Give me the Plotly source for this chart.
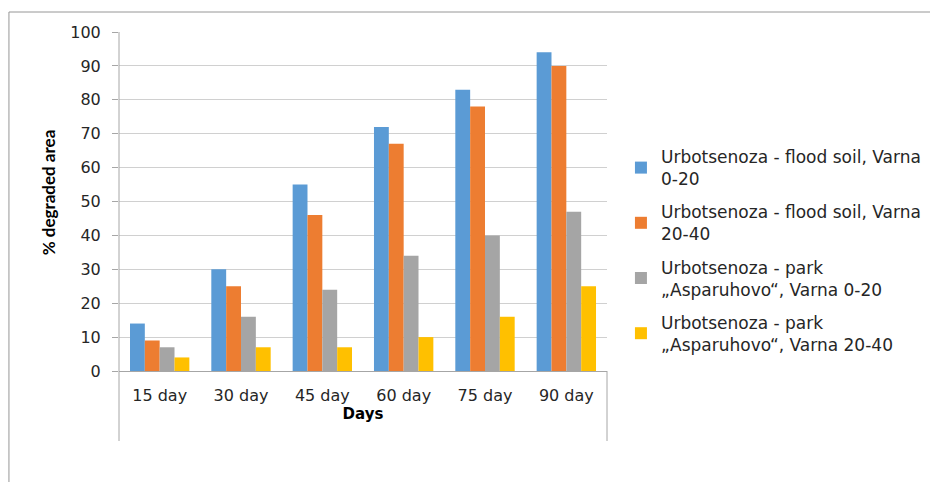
import plotly.graph_objects as go

categories = ["15 day", "30 day", "45 day", "60 day", "75 day", "90 day"]
series_names = [
    "Urbotsenoza - flood soil, Varna<br>0-20",
    "Urbotsenoza - flood soil, Varna<br>20-40",
    "Urbotsenoza - park<br>„Asparuhovo“, Varna 0-20",
    "Urbotsenoza - park<br>„Asparuhovo“, Varna 20-40",
]
flood_0_20 = [14, 30, 55, 72, 83, 94]
flood_20_40 = [9, 25, 46, 67, 78, 90]
park_0_20 = [7, 16, 24, 34, 40, 47]
park_20_40 = [4, 7, 7, 10, 16, 25]
colors = ["#5B9BD5", "#ED7D31", "#A5A5A5", "#FFC000"]
y_title = "% degraded area"
x_title = "Days"

FONT = "DejaVu Sans"
TXT = "#262626"

fig = go.Figure()
for i, (name, vals) in enumerate(zip(series_names, [flood_0_20, flood_20_40, park_0_20, park_20_40])):
    fig.add_trace(go.Bar(x=categories, y=vals, name=name, marker_color=colors[i],
                         marker_line_width=0, legendgroup=f"g{i}"))

# page has an 8px body margin; work in screen coords and convert
OFF = 8
W, H = 938 - OFF, 482 - OFF
L, R, T, B = 119 - OFF, 609 - OFF, 32 - OFF, 371 - OFF
pw, ph = R - L, B - T

def px(x):
    return (x - OFF - L) / pw

def py(y):
    return (B - (y - OFF)) / ph

axis_col = "#A6A6A6"
shapes = [
    dict(type="line", xref="paper", yref="paper", x0=0, x1=0, y0=py(441), y1=1,
         line=dict(color=axis_col, width=1)),
    dict(type="line", xref="paper", yref="paper", x0=1, x1=1, y0=py(441), y1=0,
         line=dict(color=axis_col, width=1)),
    dict(type="line", xref="paper", yref="paper", x0=px(8.5), x1=px(945), y0=py(12), y1=py(12),
         line=dict(color="#969696", width=1)),
    dict(type="line", xref="paper", yref="paper", x0=px(8.5), x1=px(8.5), y0=py(12), y1=py(495),
         line=dict(color="#969696", width=1)),
]

fig.update_layout(
    width=W, height=H,
    margin=dict(l=L, r=W - R, t=T, b=H - B, pad=0),
    paper_bgcolor="white", plot_bgcolor="white",
    barmode="group", bargap=0.27, bargroupgap=0,
    font=dict(family=FONT, size=16, color=TXT),
    shapes=shapes,
    showlegend=True,
    legend=dict(x=px(623), xanchor="left", y=py(139), yanchor="top",
                font=dict(family=FONT, size=17, color=TXT),
                tracegroupgap=8, itemwidth=30, bgcolor="rgba(0,0,0,0)"),
    annotations=[dict(text=f"<b>{y_title}</b>", xref="paper", yref="paper",
                      x=px(48), y=py(192), xanchor="center", yanchor="middle",
                      textangle=-90, showarrow=False,
                      font=dict(family="Lato", size=17, color="#000000"))],
)
fig.update_yaxes(range=[0, 100], dtick=10, showgrid=True, gridcolor="#D0D0D0", gridwidth=1,
                 showline=False, zeroline=False, ticks="outside", ticklen=6, tickcolor=axis_col,
                 tickfont=dict(family=FONT, size=16, color=TXT), ticklabelstandoff=8)
fig.update_xaxes(showline=True, linecolor=axis_col, linewidth=1, ticks="", showgrid=False,
                 tickfont=dict(family=FONT, size=16, color=TXT), ticklabelstandoff=10,
                 title=dict(text=f"<b>{x_title}</b>", font=dict(family=FONT, size=15, color="#000000"),
                            standoff=1))

fig.write_html("out.html")
